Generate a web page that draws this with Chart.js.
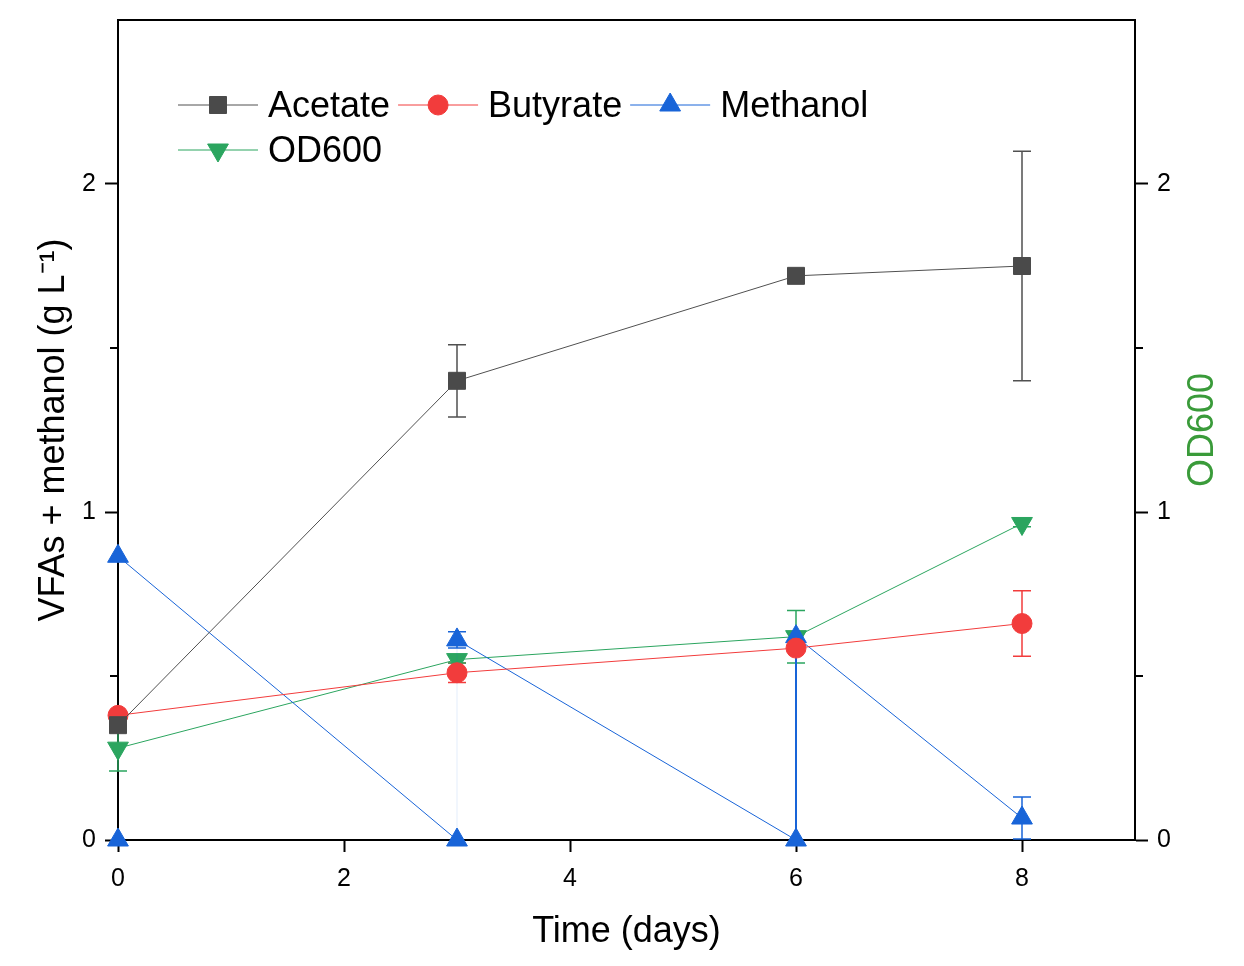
<!DOCTYPE html>
<html>
<head>
<meta charset="utf-8">
<script src="https://cdn.jsdelivr.net/npm/chart.js@4.4.0/dist/chart.umd.min.js"></script>
<style>
  html, body { margin: 0; padding: 0; background: #fff; }
</style>
</head>
<body>
<canvas id="grafico" width="1244" height="966"></canvas>
<script>
// dados (dias de cultivo)
var dias = [0, 3, 6, 8];
var acetato = [0.35, 1.40, 1.72, 1.75];
var acetatoErro = [0.02, 0.11, 0.02, 0.35];
var butirato = [0.38, 0.51, 0.585, 0.66];
var butiratoErro = [0.01, 0.03, 0.01, 0.10];
var od600 = [0.28, 0.55, 0.62, 0.965];
var od600Erro = [0.07, 0.01, 0.08, 0.01];
// metanol reposto: duas leituras nos dias 0, 3 e 6 (antes / depois)
var metanolDias = [0, 0, 3, 3, 6, 6, 8];
var metanol = [0, 0.865, 0, 0.61, 0, 0.62, 0.067];
var metanolErro = [0, 0, 0, 0.025, 0, 0.01, 0.064];
var xTicks = [0, 2, 4, 6, 8];
var yTicks = [0, 0.5, 1, 1.5, 2];

var fam = "'Liberation Sans', Arial, sans-serif";

function pontos(xs, ys) {
  return xs.map(function(x, i) { return { x: x, y: ys[i] }; });
}

// barras de erro com "chapéu"
var barrasErro = {
  id: 'barrasErro',
  beforeDatasetsDraw: function(chart) {
    var ctx = chart.ctx;
    chart.data.datasets.forEach(function(ds, i) {
      if (!ds.erros) return;
      var meta = chart.getDatasetMeta(i);
      var escala = chart.scales[meta.yAxisID];
      ctx.save();
      ctx.strokeStyle = ds.borderColor;
      ctx.lineWidth = 1.5;
      meta.data.forEach(function(pt, j) {
        var e = ds.erros[j];
        if (!e) return;
        var v = ds.data[j].y;
        var y1 = escala.getPixelForValue(v + e);
        var y2 = escala.getPixelForValue(v - e);
        ctx.beginPath();
        ctx.moveTo(pt.x, y1); ctx.lineTo(pt.x, y2);
        ctx.moveTo(pt.x - 9, y1); ctx.lineTo(pt.x + 9, y1);
        ctx.moveTo(pt.x - 9, y2); ctx.lineTo(pt.x + 9, y2);
        ctx.stroke();
      });
      ctx.restore();
    });
  }
};

// moldura, ticks menores, titulo da direita e legenda dentro do gráfico
var extras = {
  id: 'extras',
  afterDraw: function(chart) {
    var ctx = chart.ctx, area = chart.chartArea;
    ctx.save();
    ctx.strokeStyle = '#000';
    ctx.lineWidth = 2;
    ctx.beginPath();
    ctx.moveTo(area.left - 1, area.top);
    ctx.lineTo(area.right + 1, area.top);
    ctx.stroke();

    // ticks menores
    [0.5, 1.5].forEach(function(v) {
      var yl = chart.scales.y.getPixelForValue(v);
      var yr = chart.scales.y2.getPixelForValue(v);
      ctx.beginPath();
      ctx.moveTo(area.left - 8, yl); ctx.lineTo(area.left, yl);
      ctx.moveTo(area.right, yr); ctx.lineTo(area.right + 8, yr);
      ctx.stroke();
    });

    // titulo do eixo da direita (lido de baixo para cima)
    ctx.translate(1203, (area.top + area.bottom) / 2);
    ctx.rotate(-Math.PI / 2);
    ctx.fillStyle = '#3A9B3A';
    ctx.font = '36px ' + fam;
    ctx.textAlign = 'center';
    ctx.textBaseline = 'middle';
    ctx.fillText('OD600', 0, 0);
    ctx.restore();

    // legenda
    ctx.save();
    ctx.font = '36px ' + fam;
    ctx.textBaseline = 'middle';
    ctx.textAlign = 'left';
    var linhas = [[0, 1, 2], [3]];
    var y = 105;
    linhas.forEach(function(linha) {
      var x = area.left + 60;
      linha.forEach(function(i) {
        var ds = chart.data.datasets[i];
        ctx.strokeStyle = ds.borderColor;
        ctx.lineWidth = 1;
        ctx.beginPath();
        ctx.moveTo(x, y); ctx.lineTo(x + 80, y);
        ctx.stroke();
        ctx.fillStyle = ds.pointBackgroundColor;
        ctx.strokeStyle = ds.pointBorderColor;
        Chart.helpers.drawPoint(ctx, {
          pointStyle: ds.pointStyle,
          rotation: ds.pointRotation || 0,
          radius: ds.pointRadius,
          borderWidth: 1
        }, x + 40, y);
        ctx.fillStyle = '#000';
        ctx.fillText(ds.label, x + 90, y + 2);
        x += 90 + ctx.measureText(ds.label).width + 8;
      });
      y += 45;
    });
    ctx.restore();
  }
};

var eixoY = function(pos, largura, titulo) {
  return {
    type: 'linear',
    position: pos,
    min: 0,
    max: 2.5,
    afterBuildTicks: function(s) { s.ticks = yTicks.map(function(v) { return { value: v }; }); },
    afterFit: function(s) {
      s.width = largura;
      s.paddingTop = 0;
      s.paddingBottom = 0;
    },
    grid: {
      drawOnChartArea: false,
      tickLength: 13,
      tickWidth: 2,
      tickColor: function(c) { return Number.isInteger(c.tick.value) ? '#000' : 'rgba(0,0,0,0)'; }
    },
    border: { color: '#000', width: 2 },
    ticks: {
      color: '#000',
      padding: 9,
      font: { size: 25, family: fam },
      callback: function(v) { return Number.isInteger(v) ? String(v) : ''; }
    },
    title: titulo
  };
};

var grafico = new Chart(document.getElementById('grafico').getContext('2d'), {
  type: 'line',
  data: {
    datasets: [{
      label: 'Acetate',
      data: pontos(dias, acetato),
      erros: acetatoErro,
      yAxisID: 'y',
      borderColor: '#505050',
      borderWidth: 1,
      pointStyle: 'rect',
      pointRadius: 12,
      pointBackgroundColor: '#4A4A4A',
      pointBorderColor: '#4A4A4A',
      clip: false
    }, {
      label: 'Butyrate',
      data: pontos(dias, butirato),
      erros: butiratoErro,
      yAxisID: 'y',
      borderColor: '#F23C3C',
      borderWidth: 1,
      pointStyle: 'circle',
      pointRadius: 10,
      pointBackgroundColor: '#F23C3C',
      pointBorderColor: '#F23C3C',
      clip: false
    }, {
      label: 'Methanol',
      data: pontos(metanolDias, metanol),
      erros: metanolErro,
      yAxisID: 'y',
      borderColor: '#1864D8',
      borderWidth: 1,
      pointStyle: 'triangle',
      pointRadius: 12,
      pointBackgroundColor: '#1864D8',
      pointBorderColor: '#1864D8',
      clip: false,
      segment: {
        borderColor: function(c) {
          if (c.p0.parsed.x !== c.p1.parsed.x) return undefined;
          if (c.p0.parsed.x === 0) return 'rgba(0,0,0,0)';
          if (c.p0.parsed.x === 3) return 'rgba(24,100,216,0.12)';
          return undefined;
        },
        borderWidth: function(c) {
          if (c.p0.parsed.x === c.p1.parsed.x && c.p0.parsed.x === 6) return 2;
          return undefined;
        }
      }
    }, {
      label: 'OD600',
      data: pontos(dias, od600),
      erros: od600Erro,
      yAxisID: 'y2',
      borderColor: '#2BA55F',
      borderWidth: 1,
      pointStyle: 'triangle',
      pointRotation: 180,
      pointRadius: 12,
      pointBackgroundColor: '#2BA55F',
      pointBorderColor: '#2BA55F',
      clip: false
    }]
  },
  options: {
    responsive: false,
    animation: false,
    layout: { padding: { top: 20, left: 0, right: 0, bottom: 0 } },
    plugins: {
      legend: { display: false },
      tooltip: { enabled: false }
    },
    scales: {
      x: {
        type: 'linear',
        position: 'bottom',
        min: 0,
        max: 9,
        afterBuildTicks: function(s) { s.ticks = xTicks.map(function(v) { return { value: v }; }); },
        afterFit: function(s) {
          s.height = 126;
          s.paddingLeft = 0;
          s.paddingRight = 0;
        },
        grid: { drawOnChartArea: false, tickLength: 12, tickWidth: 2, tickColor: '#000' },
        border: { color: '#000', width: 2 },
        ticks: { color: '#000', padding: 12, maxRotation: 0, font: { size: 25, family: fam } },
        title: {
          display: true,
          text: 'Time (days)',
          color: '#000',
          font: { size: 36, family: fam },
          padding: { top: 0, bottom: 12 }
        }
      },
      y: eixoY('left', 118, {
        display: true,
        text: 'VFAs + methanol (g L\u207B\u00B9)',
        color: '#000',
        font: { size: 36, family: fam },
        padding: { top: 32, bottom: 0 }
      }),
      y2: eixoY('right', 109, { display: false })
    }
  },
  plugins: [barrasErro, extras]
});
</script>
</body>
</html>
